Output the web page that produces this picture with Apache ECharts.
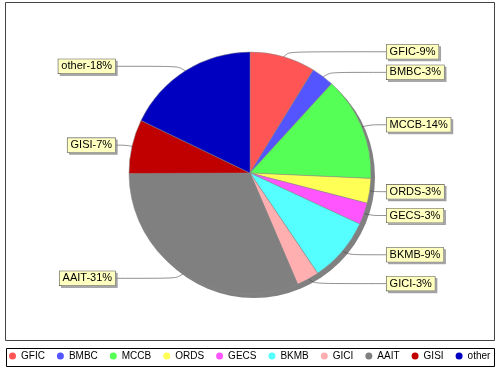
<!DOCTYPE html>
<html><head><meta charset="utf-8">
<script src="https://cdn.jsdelivr.net/npm/echarts@6/dist/echarts.min.js"></script>
<style>html,body{margin:0;padding:0;background:#fff}#c{width:500px;height:370px}</style>
</head><body><div id="c"></div>
<script>
const categories = ['GFIC','BMBC','MCCB','ORDS','GECS','BKMB','GICI','AAIT','GISI','other'];
const values = [8.75, 3.0, 13.9, 3.3, 2.9, 8.6, 3.0, 31.3, 7.2, 17.8];
const colors = ['#FF5555','#5555FF','#55FF55','#FFFF55','#FF55FF','#55FFFF','#FFAFAF','#808080','#C00000','#0000C0'];
const total = values.reduce((a,b)=>a+b,0);
const chart = echarts.init(document.getElementById('c'), null, {renderer:'canvas'});
chart.setOption({
  animation:false,
  backgroundColor:'#fff',
  graphic:[
    {type:'rect', shape:{x:5.5,y:2.5,width:489,height:338}, style:{fill:'none',stroke:'#444',lineWidth:1}, z:-1},
    {type:'rect', shape:{x:6.5,y:348.5,width:488,height:18}, style:{fill:'none',stroke:'#000',lineWidth:1}}
  ],
  legend:{
    left:9, top:351, padding:0, data:categories, icon:'circle', itemWidth:7, itemHeight:7, itemGap:12,
    selectedMode:false,
    itemStyle:{borderWidth:0},
    textStyle:{fontFamily:'Liberation Sans', fontSize:10, color:'#000'}
  },
  series:[
    {type:'pie', name:'shadow', center:[254,177], radius:121, silent:true,
     data:[{value:1, name:'__shadow'}], itemStyle:{color:'#808080'},
     label:{show:false}, labelLine:{show:false}, emphasis:{disabled:true}, z:1},
    {type:'pie', name:'main', center:[250,173], radius:121, startAngle:90, clockwise:true, z:2,
     data:categories.map((c,i)=>({name:c, value:values[i], itemStyle:{color:colors[i]}})),
     itemStyle:{borderColor:'#888', borderWidth:0.5},
     emphasis:{disabled:true},
     label:{
       position:'outer', alignTo:'labelLine', distanceToLabelLine:0,
       formatter:p=>p.name+'-'+Math.round(p.value/total*100)+'%',
       backgroundColor:'#FFFFC0', borderColor:'#555', borderWidth:0.6,
       padding:[2,3,1,3], fontFamily:'Liberation Sans', fontSize:11, color:'#000',
       shadowColor:'rgba(140,140,140,0.7)', shadowOffsetX:2, shadowOffsetY:2, shadowBlur:0
     },
     labelLine:{length:5, length2:12, smooth:0.3, showAbove:true, lineStyle:{color:'#444', width:0.6}},
     labelLayout:function(params){
       const pts = params.labelLinePoints;
       if(!pts || pts.length < 3) return {};
       const p0 = pts[0], p1 = pts[1], p2 = pts[2];
       const dx = p1[0]-p0[0], dy = p1[1]-p0[1];
       const len = Math.hypot(dx,dy) || 1;
       const inset = 14;
       const q0 = [p0[0]-dx/len*inset, p0[1]-dy/len*inset];
       return {labelLinePoints:[q0, p1, p2]};
     }
    }
  ]
});
</script></body></html>
